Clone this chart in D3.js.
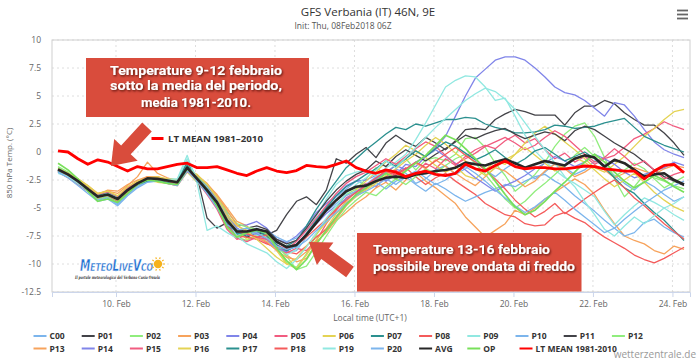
<!DOCTYPE html>
<html><head><meta charset="utf-8">
<script src="https://cdn.jsdelivr.net/npm/d3@7"></script>
<style>body{margin:0;background:#fff}svg{display:block}</style>
</head><body>
<svg id="c" width="700" height="361"></svg>
<script>
// ---- data ----
const timeStartHour = -35;   // 08 Feb 13:00 local, hours relative to 10 Feb 00:00
const timeStepHours = 6;
const xTickHours = [0,48,96,144,192,240,288,336];
const xTickLabels = ["10. Feb","12. Feb","14. Feb","16. Feb","18. Feb","20. Feb","22. Feb","24. Feb"];
const yTicks = [10,7.5,5,2.5,0,-2.5,-5,-7.5,-10,-12.5];
const seriesNames = ["C00","P01","P02","P03","P04","P05","P06","P07","P08","P09","P10","P11","P12",
  "P13","P14","P15","P16","P17","P18","P19","P20","AVG","OP","LT MEAN 1981-2010"];

const c00 = [-1.7,-2.1,-2.8,-3.5,-4.2,-4.0,-4.6,-3.7,-3.0,-2.6,-2.6,-2.8,-2.9,-1.6,-2.7,-3.6,-4.8,-6.3,-7.4,-7.0,-6.8,-7.4,-8.2,-9.0,-8.8,-7.6,-6.0,-4.9,-4.0,-3.3,-2.6,-2.9,-2.2,-2.6,-1.5,-1.9,-2.8,-2.4,-1.6,-1.2,-2.0,-1.5,-0.8,-1.6,-2.2,-1.5,-0.9,-1.7,-2.4,-1.8,-1.0,-1.4,-2.0,-1.6,-0.8,-1.2,-2.1,-2.8,-3.4,-2.6,-3.1,-3.8,-4.4,-4.0];
const p01 = [-1.5,-1.9,-2.5,-3.2,-3.9,-3.7,-4.1,-3.3,-2.9,-2.5,-2.6,-2.4,-2.5,-1.2,-2.2,-5.9,-6.8,-6.3,-6.9,-7.6,-7.2,-7.4,-7.0,-5.6,-4.4,-4.0,-4.7,-3.4,-0.6,-1.0,-0.2,0.4,-0.5,0.8,1.5,0.9,0.5,1.3,0.8,0.2,1.0,2.0,2.1,2.0,2.9,3.4,3.8,3.6,3.3,3.3,3.3,2.4,3.5,4.1,4.1,4.6,4.3,3.5,2.9,2.4,2.4,1.7,0.8,-0.3];
const p02 = [-1.3,-1.8,-2.5,-3.4,-4.2,-4.0,-4.4,-3.6,-2.9,-2.4,-2.3,-2.6,-2.8,-1.2,-2.5,-3.1,-4.2,-5.4,-7.6,-7.9,-7.5,-7.3,-8.6,-9.9,-10.3,-9.1,-7.4,-6.1,-5.0,-3.8,-3.3,-2.4,-1.4,-2.0,-1.1,-0.6,-1.6,-0.7,-0.5,-0.8,-0.2,1.2,1.3,0.4,-1.0,-2.1,-3.5,-2.8,-2.0,-0.9,0.5,1.6,2.3,2.6,1.4,-0.5,-2.4,-4.0,-3.1,-2.0,-2.3,-2.6,-3.0,-3.3];
const p03 = [-1.6,-2.0,-2.4,-3.0,-3.7,-3.5,-3.7,-3.0,-2.2,-0.9,-1.9,-2.3,-2.6,-1.6,-2.2,-2.9,-3.8,-5.0,-6.2,-6.6,-7.4,-8.0,-8.4,-9.2,-9.8,-9.5,-8.2,-7.0,-6.1,-5.4,-4.6,-4.0,-3.2,-2.7,-3.4,-2.5,-1.8,-2.6,-3.2,-3.9,-4.6,-5.8,-6.7,-7.6,-7.0,-6.4,-5.2,-5.6,-5.0,-4.2,-3.6,-3.0,-2.4,-2.9,-3.8,-5.2,-6.4,-7.5,-7.9,-8.2,-8.8,-9.1,-8.4,-8.7];
const p04 = [-1.6,-2.1,-2.7,-3.3,-4.0,-3.9,-4.3,-3.5,-2.9,-2.4,-2.5,-2.7,-2.8,-1.5,-2.3,-3.2,-4.4,-5.8,-6.6,-6.5,-6.2,-6.8,-7.8,-8.1,-7.5,-6.6,-5.4,-4.6,-3.9,-3.0,-2.6,-2.5,-2.1,-2.6,-2.0,-1.1,-1.3,-0.4,0.4,1.4,3.2,5.0,6.6,7.4,8.2,8.5,8.5,8.2,7.5,6.7,5.8,5.3,5.1,4.6,3.9,3.2,4.4,4.2,3.2,2.0,0.9,0.2,-0.2,-0.5];
const p05 = [-1.8,-2.2,-2.8,-3.4,-4.1,-3.8,-4.3,-3.5,-2.7,-2.2,-2.3,-2.7,-2.9,-1.6,-2.6,-3.8,-5.1,-6.9,-7.8,-7.3,-7.6,-8.1,-8.7,-9.0,-8.6,-8.8,-7.9,-6.4,-5.2,-4.1,-3.6,-2.8,-3.1,-2.2,-1.6,-2.4,-1.9,-1.0,-1.5,-0.6,-1.2,-0.4,0.2,0.6,0.3,1.0,1.5,0.8,1.2,0.2,-0.6,-0.1,-0.9,-0.4,-1.1,-0.6,-0.3,0.4,1.2,1.6,2.1,2.7,2.3,2.0];
const p06 = [-1.7,-2.0,-2.4,-3.1,-3.8,-3.6,-4.0,-3.2,-2.6,-2.5,-2.7,-2.8,-3.0,-1.8,-2.7,-3.5,-4.6,-5.8,-6.9,-7.8,-7.4,-7.6,-8.8,-10.0,-10.4,-9.2,-7.8,-6.8,-5.5,-4.4,-3.4,-2.6,-1.8,-0.9,-0.2,0.6,0.1,-0.5,-1.2,-1.8,-1.3,-2.1,-2.4,-1.6,-0.8,-1.1,-0.2,0.8,1.7,2.3,1.6,0.9,0.2,-0.6,-1.4,-1.8,-1.1,-0.4,0.5,1.4,2.1,2.9,3.6,3.8];
const p07 = [-1.6,-2.0,-2.6,-3.2,-3.9,-3.7,-4.1,-3.3,-2.7,-2.4,-2.5,-2.6,-2.6,-0.9,-2.3,-3.3,-4.4,-6.0,-7.2,-7.5,-7.0,-7.2,-8.1,-8.4,-7.9,-6.6,-5.1,-3.8,-2.6,-1.4,-0.6,0.2,0.9,1.6,2.2,2.0,2.5,2.3,2.6,2.9,2.9,3.1,3.0,2.5,2.2,2.0,1.7,1.7,1.8,2.0,2.4,2.3,2.1,2.2,2.3,2.6,2.8,3.0,2.2,1.4,1.0,0.6,0.3,0.0];
const p08 = [-1.8,-2.3,-2.9,-3.5,-4.1,-3.9,-4.4,-3.6,-2.9,-2.3,-2.2,-2.5,-2.7,-1.4,-2.5,-3.5,-4.9,-6.6,-7.5,-7.6,-7.8,-8.2,-8.5,-8.9,-9.1,-8.4,-7.6,-6.9,-5.8,-4.6,-3.8,-3.0,-2.4,-1.6,-2.0,-1.4,-2.2,-2.9,-2.3,-1.9,-2.6,-3.2,-3.8,-4.6,-5.1,-5.6,-5.8,-6.4,-6.6,-6.5,-5.7,-5.4,-5.9,-6.3,-7.0,-7.6,-8.1,-8.6,-9.2,-9.6,-9.9,-9.5,-9.0,-8.5];
const p09 = [-1.9,-2.2,-2.7,-3.3,-3.9,-3.6,-4.0,-3.3,-2.8,-2.5,-2.4,-2.4,-2.4,-0.3,-2.8,-7.0,-6.6,-7.2,-7.7,-7.0,-7.4,-7.9,-8.6,-9.2,-8.7,-7.2,-5.7,-4.2,-2.9,-2.1,-1.8,-1.6,-2.2,-1.4,-0.9,-0.2,1.1,2.6,4.2,5.8,6.4,6.8,6.7,5.8,4.6,4.8,3.2,1.5,0.1,-0.8,-1.6,-2.3,-2.8,-3.4,-4.0,-5.3,-6.5,-5.6,-4.8,-4.1,-4.5,-5.0,-4.6,-4.0];
const p10 = [-1.6,-2.1,-2.8,-3.5,-4.3,-4.1,-4.7,-3.8,-3.1,-2.6,-2.6,-2.7,-2.7,-1.5,-2.4,-3.2,-4.3,-5.5,-6.8,-7.3,-7.1,-7.0,-7.6,-8.0,-7.7,-6.9,-6.1,-5.3,-4.6,-3.9,-3.5,-3.1,-2.7,-3.3,-2.6,-2.2,-2.9,-3.5,-2.8,-3.3,-3.9,-4.4,-4.0,-3.6,-3.3,-2.9,-3.1,-2.6,-2.2,-2.0,-2.6,-3.1,-3.9,-4.6,-5.3,-6.1,-6.8,-7.5,-7.2,-6.3,-6.0,-6.7,-7.2,-7.6];
const p11 = [-1.7,-2.1,-2.7,-3.4,-4.0,-3.8,-4.2,-3.4,-2.7,-2.3,-2.5,-2.6,-2.8,-1.5,-2.4,-3.3,-4.6,-6.2,-7.3,-6.8,-6.6,-6.9,-7.8,-8.2,-7.9,-6.8,-5.6,-4.4,-3.4,-2.6,-2.0,-1.6,-0.8,-1.3,-0.4,0.2,-0.3,-0.8,-0.2,0.3,0.9,1.5,1.2,1.6,1.9,2.1,1.6,1.2,1.5,1.8,1.6,1.0,1.9,2.3,2.0,1.4,0.8,0.3,-0.2,-0.9,-1.6,-2.2,-2.6,-3.0];
const p12 = [-1.4,-1.9,-2.6,-3.4,-4.1,-3.9,-4.3,-3.5,-2.9,-2.4,-2.5,-2.7,-2.8,-1.3,-2.2,-3.0,-4.0,-5.3,-6.4,-6.7,-6.9,-7.3,-8.3,-9.3,-10.5,-10.2,-8.9,-7.5,-6.2,-5.1,-4.3,-3.6,-3.9,-3.1,-2.4,-2.9,-2.2,-1.5,-1.9,-1.2,-0.6,-0.2,-1.0,-2.0,-3.1,-4.2,-5.0,-4.4,-3.5,-2.8,-2.0,-1.2,-0.3,0.4,-0.4,-1.3,-2.2,-1.6,-1.0,-1.5,-2.4,-3.2,-2.7,-2.2];
const p13 = [-1.5,-1.9,-2.5,-3.2,-3.8,-3.4,-3.5,-2.9,-2.5,-2.2,-2.3,-2.4,-2.6,-1.5,-2.1,-2.8,-3.9,-5.2,-6.5,-7.2,-7.7,-8.0,-8.8,-9.4,-9.6,-8.9,-8.0,-7.2,-6.0,-4.8,-3.9,-3.3,-2.5,-1.8,-2.3,-1.6,-1.0,-1.5,-0.7,-1.3,-1.9,-2.5,-3.0,-2.2,-1.4,-1.7,-2.4,-3.1,-2.6,-1.7,-1.1,-1.5,-2.2,-1.8,-1.2,-1.6,-2.3,-1.9,-1.4,-1.7,-2.0,-1.5,-1.2,-1.4];
const p14 = [-1.6,-2.0,-2.6,-3.3,-3.9,-3.7,-4.1,-3.3,-2.8,-2.5,-2.6,-2.7,-2.9,-1.6,-2.3,-3.1,-4.2,-5.6,-6.8,-7.4,-7.3,-7.8,-8.6,-8.9,-8.2,-7.3,-6.4,-5.5,-4.8,-4.2,-3.6,-2.9,-2.4,-1.8,-1.2,-1.6,-0.9,-0.4,0.2,-0.4,-1.0,-1.6,-2.3,-2.9,-3.5,-3.0,-2.6,-2.1,-1.5,-1.0,-0.4,-0.8,-1.3,-0.9,-0.2,-0.6,-1.1,-1.8,-2.3,-2.0,-1.7,-1.4,-0.9,-1.2];
const p15 = [-1.7,-2.2,-2.7,-3.3,-3.9,-3.6,-4.0,-3.2,-2.6,-2.3,-2.5,-2.8,-3.0,-1.7,-2.5,-3.4,-4.7,-6.4,-7.7,-8.0,-7.6,-7.8,-8.3,-8.7,-8.0,-7.0,-5.9,-4.8,-3.7,-2.8,-2.2,-1.8,-1.2,-0.6,-1.1,-0.4,0.3,0.9,0.5,-0.3,-1.1,-0.6,-0.1,0.5,0.9,1.3,0.8,0.2,0.6,1.3,1.9,1.4,0.6,-0.2,-0.9,-0.5,0.3,-0.4,-1.2,-0.8,-1.6,-2.4,-2.0,-1.7];
const p16 = [-1.5,-1.9,-2.4,-3.0,-3.7,-3.5,-3.9,-3.1,-2.6,-2.3,-2.2,-2.4,-2.5,-1.6,-2.0,-2.9,-4.1,-5.6,-6.6,-7.0,-7.8,-8.6,-9.4,-10.0,-9.5,-8.4,-7.3,-6.3,-5.4,-4.7,-4.0,-3.4,-2.8,-2.1,-1.5,-0.8,-0.2,0.6,1.3,0.7,-0.1,-0.8,-1.5,-2.1,-1.4,-0.7,-0.2,0.4,-0.3,-1.0,-1.7,-1.2,-0.5,-0.9,-1.6,-2.4,-3.1,-2.5,-1.9,-2.7,-3.6,-4.3,-4.9,-5.3];
const p17 = [-1.7,-2.1,-2.7,-3.3,-3.9,-3.7,-4.1,-3.4,-2.9,-2.6,-2.6,-2.7,-2.7,-1.2,-2.6,-3.6,-4.9,-6.4,-7.3,-7.2,-7.0,-7.5,-8.3,-8.8,-8.4,-7.3,-6.1,-5.0,-3.9,-3.1,-2.6,-2.0,-1.5,-0.8,-1.3,-0.6,0.1,-0.4,0.3,0.9,0.5,-0.1,-0.7,-0.3,0.2,-0.5,-1.1,-0.6,0.1,0.4,-0.2,-0.8,-0.4,0.0,-0.6,-1.4,-2.3,-3.2,-3.7,-4.6,-5.4,-6.1,-7.0,-7.9];
const p18 = [-1.6,-2.1,-2.7,-3.3,-4.0,-3.8,-4.2,-3.5,-2.9,-2.4,-2.4,-2.6,-2.8,-1.5,-2.5,-3.4,-4.5,-6.2,-7.1,-7.3,-7.6,-7.4,-8.0,-8.6,-8.3,-7.6,-6.8,-6.0,-5.1,-4.3,-3.6,-3.0,-2.3,-1.7,-2.1,-1.5,-0.9,-1.4,-0.8,-0.2,0.4,-0.3,-0.9,-1.6,-2.4,-3.3,-4.3,-5.1,-5.8,-5.3,-4.6,-5.5,-4.9,-4.2,-3.6,-3.0,-2.5,-3.2,-4.1,-4.8,-5.6,-6.4,-7.1,-7.8];
const p19 = [-1.8,-2.2,-2.8,-3.4,-4.0,-3.7,-4.1,-3.4,-2.8,-2.4,-2.5,-2.5,-2.5,-0.6,-2.4,-3.2,-4.4,-6.0,-7.5,-8.2,-8.6,-9.0,-9.8,-10.4,-9.6,-8.5,-7.2,-5.9,-4.8,-3.7,-2.9,-2.3,-1.6,-0.8,-1.4,-0.5,0.4,1.3,2.2,3.0,3.8,4.6,5.2,5.7,5.4,4.7,3.8,2.6,1.4,0.2,-1.0,-2.2,-3.1,-4.4,-5.6,-6.9,-7.5,-6.6,-5.8,-6.4,-5.7,-5.0,-5.6,-6.1];
const p20 = [-1.8,-2.3,-3.0,-3.7,-4.4,-4.2,-4.8,-3.9,-3.2,-2.7,-2.6,-2.8,-3.0,-1.7,-2.6,-3.7,-5.0,-6.5,-7.0,-6.8,-7.2,-7.7,-8.4,-8.7,-8.5,-7.9,-7.0,-6.2,-5.4,-4.6,-3.9,-3.5,-3.0,-2.4,-2.9,-2.2,-1.7,-2.3,-2.9,-2.5,-1.8,-1.3,-1.9,-2.6,-3.4,-4.1,-4.8,-5.4,-4.9,-4.2,-3.6,-4.3,-5.1,-5.8,-6.5,-7.2,-6.8,-6.0,-5.3,-4.6,-4.0,-3.4,-3.0,-2.6];
const avg = [-1.55,-2.0,-2.6,-3.3,-4.0,-3.8,-4.2,-3.4,-2.8,-2.35,-2.4,-2.55,-2.7,-1.4,-2.4,-3.4,-4.5,-6.1,-7.1,-7.1,-6.9,-7.1,-8.0,-8.5,-8.3,-7.4,-6.3,-5.2,-4.3,-3.5,-3.1,-3.0,-2.6,-2.3,-2.2,-2.3,-2.0,-1.9,-1.7,-1.6,-1.4,-0.95,-1.1,-1.2,-0.9,-0.65,-1.0,-1.4,-1.1,-0.8,-1.0,-1.2,-0.6,-0.3,-0.5,-1.3,-0.7,-1.0,-1.6,-2.2,-2.0,-1.9,-2.5,-2.9];
const op = [-1.0,-1.6,-2.4,-3.5,-4.4,-4.2,-4.5,-3.7,-2.9,-2.5,-2.6,-2.8,-2.9,-1.5,-2.3,-3.3,-4.8,-6.7,-7.6,-7.2,-7.0,-7.2,-8.6,-9.7,-10.5,-9.6,-8.2,-7.0,-5.8,-4.7,-3.8,-3.2,-2.6,-1.9,-2.4,-1.7,-1.0,-0.3,0.6,1.5,1.1,0.3,-0.6,-1.5,-2.6,-3.8,-4.9,-5.6,-5.2,-4.4,-3.5,-2.7,-1.8,-0.9,-0.2,-0.9,-1.8,-2.6,-3.2,-2.7,-2.1,-2.5,-3.1,-3.6];
const ltMean = [0.1,0.0,-0.6,-1.1,-0.7,-0.9,-1.3,-1.7,-1.3,-1.5,-1.5,-1.3,-1.1,-1.0,-1.4,-1.4,-1.3,-1.6,-1.9,-2.1,-1.7,-1.4,-1.7,-1.85,-1.66,-1.2,-1.3,-1.37,-1.1,-0.8,-1.4,-1.7,-1.9,-1.6,-1.8,-2.2,-1.9,-1.7,-2.0,-2.1,-1.9,-1.1,-1.5,-1.7,-1.2,-0.8,-1.3,-1.5,-1.4,-1.4,-1.5,-1.5,-1.4,-1.25,-1.3,-1.5,-1.6,-1.7,-1.7,-2.4,-1.7,-1.2,-1.1,-1.85];

const seriesData = [c00,p01,p02,p03,p04,p05,p06,p07,p08,p09,p10,p11,p12,p13,p14,p15,p16,p17,p18,p19,p20,avg,op,ltMean];

// ---- styles ----
const seriesColors = ["#7cb5ec","#434348","#90ed7d","#f7a35c","#8085e9","#f15c80","#e4d354","#2b908f","#f45b5b","#91e8e1",
  "#7cb5ec","#434348","#90ed7d","#f7a35c","#8085e9","#f15c80","#e4d354","#2b908f","#f45b5b","#91e8e1","#7cb5ec",
  "#262626","#78e05a","#ff0000"];
const seriesWidths = seriesNames.map((n,i)=> i<21 ? 1.3 : (n==="AVG" ? 2.6 : (n==="OP" ? 1.7 : 2.8)));

const svg = d3.select("#c");
const F = "'Open Sans','DejaVu Sans',sans-serif";
const P = {l:52, r:690, t:40, b:292};
const x = d3.scaleLinear().domain([-38.64, 346.6]).range([P.l, P.r]);
const y = d3.scaleLinear().domain([-12.5, 10]).range([P.b, P.t]);
const hours = seriesData[0].map((_, i) => timeStartHour + timeStepHours * i);

const defs = svg.append("defs");
const sh = defs.append("filter").attr("id","sh").attr("x","-10%").attr("y","-30%").attr("width","130%").attr("height","160%");
sh.append("feDropShadow").attr("dx",1).attr("dy",1.2).attr("stdDeviation",0.9).attr("flood-color","#3a0a05").attr("flood-opacity",0.85);
defs.append("clipPath").attr("id","clip").append("rect").attr("x",P.l).attr("y",P.t).attr("width",P.r-P.l).attr("height",P.b-P.t);

// title
svg.append("text").attr("x",368).attr("y",16).attr("text-anchor","middle").attr("font-family",F).attr("font-size",11.5).attr("fill","#333").text("GFS Verbania (IT) 46N, 9E");
svg.append("text").attr("x",343).attr("y",28.5).attr("text-anchor","middle").attr("font-family",F).attr("font-size",8.5).attr("fill","#555").text("Init: Thu, 08Feb2018 06Z");
// menu icon
svg.append("g").selectAll("line").data([10.5,14.5,18.5]).join("line")
  .attr("x1",677).attr("x2",688).attr("y1",d=>d).attr("y2",d=>d).attr("stroke","#666").attr("stroke-width",1.8);

// grid
svg.append("g").selectAll("line").data(yTicks).join("line")
  .attr("x1",P.l).attr("x2",P.r).attr("y1",d=>y(d)).attr("y2",d=>y(d))
  .attr("stroke","#dedede").attr("stroke-dasharray","2,3");
svg.append("g").selectAll("line").data(xTickHours).join("line")
  .attr("x1",d=>x(d)).attr("x2",d=>x(d)).attr("y1",P.t).attr("y2",P.b)
  .attr("stroke","#dedede").attr("stroke-dasharray","2,3");
svg.append("rect").attr("x",P.l).attr("y",P.t).attr("width",P.r-P.l).attr("height",P.b-P.t)
  .attr("fill","none").attr("stroke","#cfcfcf").attr("stroke-width",1);

// axes
const yAxis = svg.append("g").attr("transform",`translate(${P.l},0)`)
  .call(d3.axisLeft(y).tickValues(yTicks).tickSize(0).tickPadding(11).tickFormat(d=>String(d)));
yAxis.select(".domain").remove();
yAxis.selectAll("text").attr("font-family",F).attr("font-size",8.5).attr("fill","#666");

const xAxis = svg.append("g").attr("transform",`translate(0,${P.b})`)
  .call(d3.axisBottom(x).tickValues(xTickHours).tickSize(5).tickPadding(4).tickFormat((d,i)=>xTickLabels[i]));
xAxis.select(".domain").attr("stroke","#ccd6eb");
xAxis.selectAll(".tick line").attr("stroke","#ccd6eb");
xAxis.selectAll("text").attr("font-family",F).attr("font-size",8.5).attr("fill","#666");

svg.append("text").attr("transform","translate(12,163) rotate(-90)").attr("text-anchor","middle")
  .attr("font-family",F).attr("font-size",8).attr("fill","#666").text("850 hPa Temp. (°C)");
svg.append("text").attr("x",370).attr("y",321).attr("text-anchor","middle")
  .attr("font-family",F).attr("font-size",8.5).attr("fill","#666").text("Local time (UTC+1)");

// lines
const line = d3.line().x((d,i)=>x(hours[i])).y(d=>y(d));
const order = d3.range(21).concat([22,21,23]);
svg.append("g").attr("clip-path","url(#clip)").selectAll("path").data(order).join("path")
  .attr("d",k=>line(seriesData[k])).attr("fill","none")
  .attr("stroke",k=>seriesColors[k]).attr("stroke-width",k=>seriesWidths[k])
  .attr("stroke-linejoin","round");

// legend
const lg = svg.append("g");
seriesNames.forEach((n,k)=>{
  const row = k<13 ? 0 : 1, col = k<13 ? k : k-13;
  const lx = 33.5 + col*48.2 + (k===23 ? 4 : 0), ly = row===0 ? 336 : 348.5;
  lg.append("line").attr("x1",lx).attr("x2",lx+13).attr("y1",ly).attr("y2",ly)
    .attr("stroke",seriesColors[k]).attr("stroke-width",2);
  lg.append("text").attr("x",lx+16).attr("y",ly+3.2).attr("font-family",F).attr("font-size",8.5)
    .attr("font-weight","bold").attr("fill","#333").text(n);
});
svg.append("text").attr("x",696).attr("y",358).attr("text-anchor","end").attr("font-family",F)
  .attr("font-size",10).attr("fill","#999").text("wetterzentrale.de");

// annotations
const RED = "#d94c3c";
function blockArrow(tail, tip, shaftHalf, headLen, headHalf){
  const dx = tip[0]-tail[0], dy = tip[1]-tail[1], L = Math.hypot(dx,dy);
  const ux = dx/L, uy = dy/L, nx = -uy, ny = ux;
  const bx = tip[0]-ux*headLen, by = tip[1]-uy*headLen;
  const pts = [
    [tail[0]+nx*shaftHalf, tail[1]+ny*shaftHalf],
    [bx+nx*shaftHalf, by+ny*shaftHalf],
    [bx+nx*headHalf, by+ny*headHalf],
    tip,
    [bx-nx*headHalf, by-ny*headHalf],
    [bx-nx*shaftHalf, by-ny*shaftHalf],
    [tail[0]-nx*shaftHalf, tail[1]-ny*shaftHalf]];
  svg.append("polygon").attr("points",pts.map(p=>p.join(",")).join(" ")).attr("fill",RED);
}
svg.append("rect").attr("x",86).attr("y",58).attr("width",223).attr("height",59).attr("fill",RED);
const t1 = [["Temperature 9-12 febbraio",74.5,172],["sotto la media del periodo,",90,172],["media 1981-2010.",107,110]];
t1.forEach(([s,yy,w])=>svg.append("text").attr("x",196).attr("y",yy).attr("text-anchor","middle")
  .attr("font-family","Roboto,'Open Sans',sans-serif").attr("font-weight","bold").attr("font-size",13)
  .attr("textLength",w).attr("lengthAdjust","spacingAndGlyphs")
  .attr("fill","#fff").attr("filter","url(#sh)").text(s));
blockArrow([147,127],[111,166],6.5,22,16);

svg.append("line").attr("x1",151.5).attr("x2",163.5).attr("y1",138.5).attr("y2",138.5).attr("stroke","#ff0000").attr("stroke-width",3);
svg.append("text").attr("x",168).attr("y",141.8).attr("font-family",F).attr("font-weight","bold").attr("font-size",8.5)
  .attr("textLength",95).attr("lengthAdjust","spacingAndGlyphs").attr("fill","#333").text("LT MEAN 1981–2010");

svg.append("rect").attr("x",357).attr("y",233).attr("width",224.5).attr("height",58.5).attr("fill",RED);
const t2 = [["Temperature 13-16 febbraio",253.5,177],["possibile breve ondata di freddo",270.5,202]];
t2.forEach(([s,yy,w])=>svg.append("text").attr("x",373).attr("y",yy)
  .attr("font-family","Roboto,'Open Sans',sans-serif").attr("font-weight","bold").attr("font-size",13)
  .attr("textLength",w).attr("lengthAdjust","spacingAndGlyphs")
  .attr("fill","#fff").attr("filter","url(#sh)").text(s));
blockArrow([350,272],[309,242],6.5,20,14);

// logo
const lgo = svg.append("g");
lgo.append("text").attr("x",80).attr("y",271).attr("font-family","'DejaVu Sans',sans-serif").attr("font-weight","bold")
  .attr("font-style","italic").attr("font-size",15).attr("font-variant","small-caps")
  .attr("textLength",73).attr("lengthAdjust","spacingAndGlyphs")
  .attr("fill","#1f6fd1").attr("stroke","#fff").attr("stroke-width",0.4).text("MeteoLiveVco");
lgo.append("circle").attr("cx",158).attr("cy",264).attr("r",4.2).attr("fill","#f6b21b");
lgo.selectAll("line.ray").data(d3.range(10)).join("line").attr("class","ray")
  .attr("x1",d=>158+5.2*Math.cos(d*Math.PI/5)).attr("y1",d=>264+5.2*Math.sin(d*Math.PI/5))
  .attr("x2",d=>158+7*Math.cos(d*Math.PI/5)).attr("y2",d=>264+7*Math.sin(d*Math.PI/5))
  .attr("stroke","#f6b21b").attr("stroke-width",1.2);
lgo.append("text").attr("x",75).attr("y",279).attr("font-family","'DejaVu Serif',serif").attr("font-style","italic")
  .attr("font-weight","bold").attr("font-size",4.5).attr("textLength",85).attr("lengthAdjust","spacingAndGlyphs")
  .attr("fill","#333").text("Il portale meteorologico del Verbano Cusio Ossola");
</script>
</body></html>
